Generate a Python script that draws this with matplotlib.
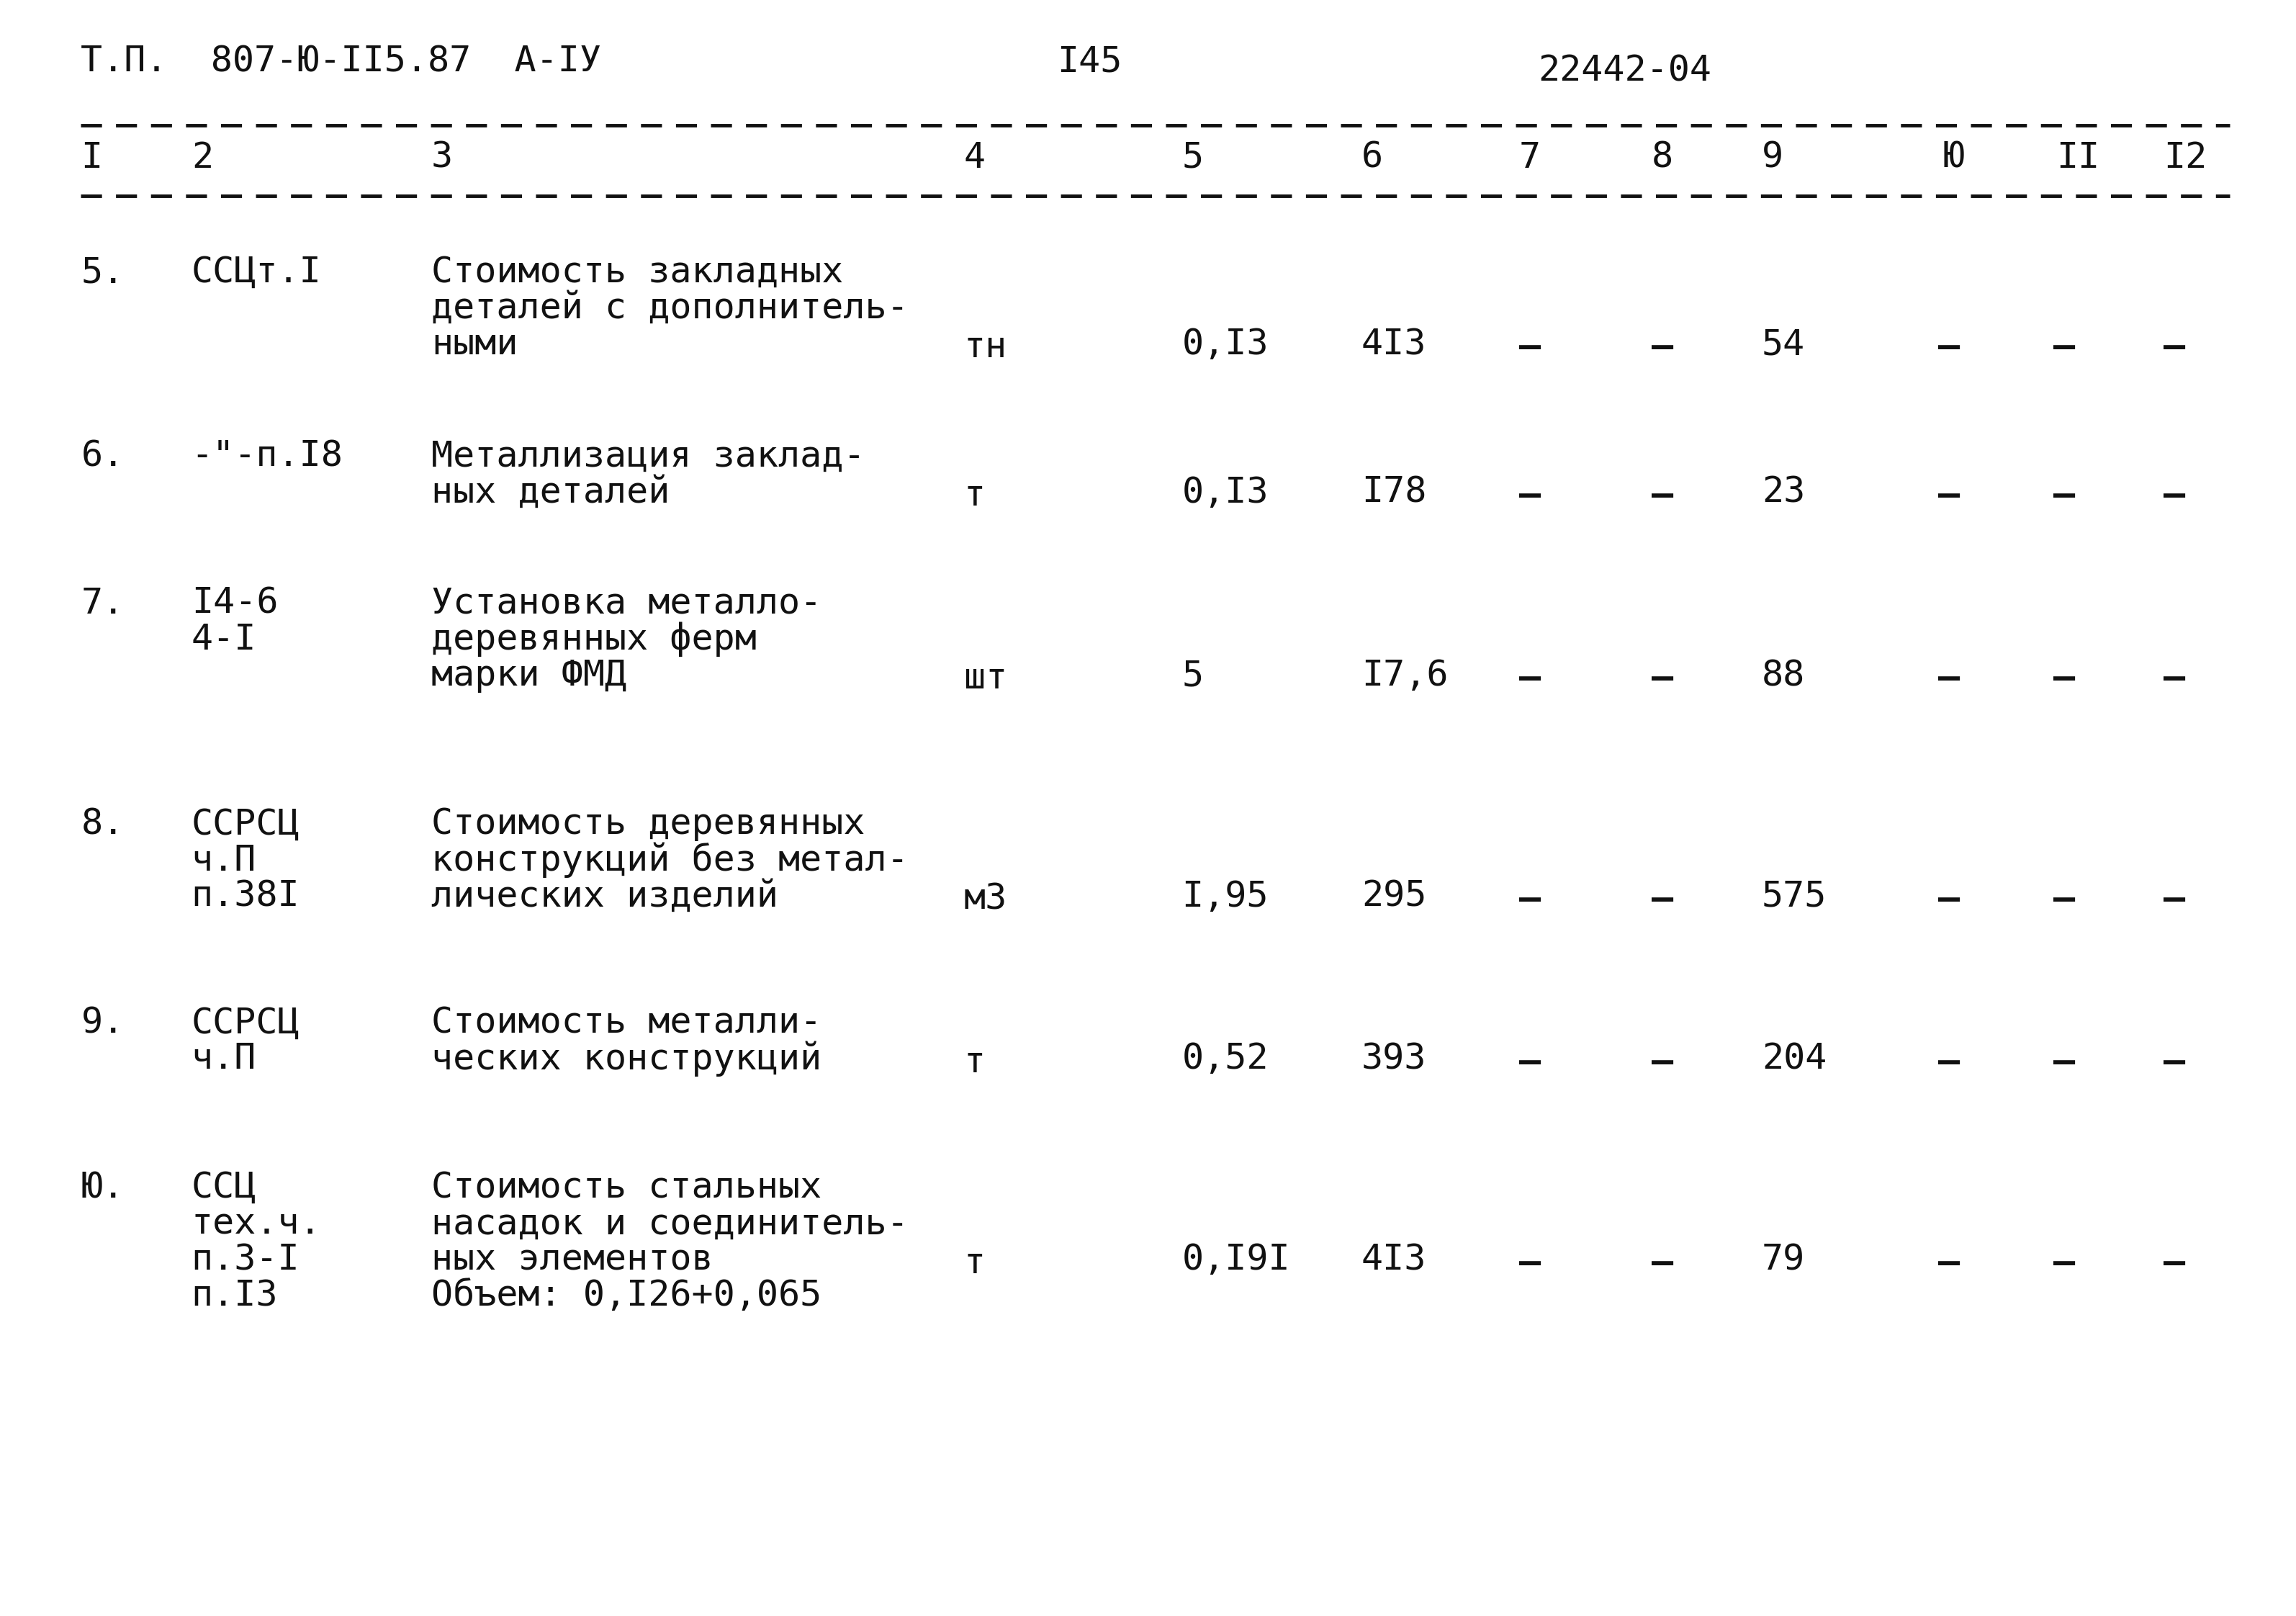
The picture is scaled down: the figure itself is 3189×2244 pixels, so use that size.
import matplotlib
matplotlib.use("Agg")
import matplotlib.pyplot as plt

header_left = "Т.П.  807-Ю-II5.87  А-IУ"
header_mid = "I45"
header_right = "22442-04"
col_headers = ["I", "2", "3", "4", "5", "6", "7", "8", "9", "Ю", "II", "I2"]
col_x = [55, 130, 293, 655, 803, 925, 1032, 1122, 1197, 1320, 1397, 1470]

nums = ["5.", "6.", "7.", "8.", "9.", "Ю."]
codes = [["ССЦт.I"], ['-"-п.I8'], ["I4-6", "4-I"], ["ССРСЦ", "ч.П", "п.38I"],
         ["ССРСЦ", "ч.П"], ["ССЦ", "тех.ч.", "п.3-I", "п.I3"]]
descs = [["Стоимость закладных", "деталей с дополнитель-", "ными"],
         ["Металлизация заклад-", "ных деталей"],
         ["Установка металло-", "деревянных ферм", "марки ФМД"],
         ["Стоимость деревянных", "конструкций без метал-", "лических изделий"],
         ["Стоимость металли-", "ческих конструкций"],
         ["Стоимость стальных", "насадок и соединитель-", "ных элементов", "Объем: 0,I26+0,065"]]
units = ["тн", "т", "шт", "м3", "т", "т"]
col5 = ["0,I3", "0,I3", "5", "I,95", "0,52", "0,I9I"]
col6 = ["4I3", "I78", "I7,6", "295", "393", "4I3"]
col9 = ["54", "23", "88", "575", "204", "79"]

row_top = [185, 310, 410, 560, 695, 807]
value_line = [2, 1, 2, 2, 1, 2]
line_h = 24.5

fig = plt.figure(figsize=(31.89, 22.44), dpi=100)
ax = fig.add_axes([0, 0, 1, 1])
ax.set_xlim(0, 1560)
ax.set_ylim(1098, 0)
ax.axis("off")
FS = 36
kw = dict(family="DejaVu Sans Mono", fontsize=FS, va="center", ha="left", color="#111111")

ax.text(55, 42, header_left, **kw)
ax.text(718, 42, header_mid, **kw)
ax.text(1045, 48, header_right, **kw)
for y in (85, 133):
    ax.plot([55, 1515], [y, y], color="#111111", lw=3.5, linestyle=(0, (6, 4)))
for x, h in zip(col_x, col_headers):
    ax.text(x, 107, h, **kw)

for i in range(len(nums)):
    y0 = row_top[i]
    ax.text(55, y0, nums[i], **kw)
    for j, c in enumerate(codes[i]):
        ax.text(130, y0 + j * line_h, c, **kw)
    for j, d in enumerate(descs[i]):
        ax.text(293, y0 + j * line_h, d, **kw)
    yv = y0 + value_line[i] * line_h
    ax.text(655, yv + 2, units[i], **kw)
    ax.text(803, yv, col5[i], **kw)
    ax.text(925, yv, col6[i], **kw)
    ax.text(1197, yv, col9[i], **kw)
    for x in (1032, 1122, 1317, 1395, 1470):
        ax.text(x, yv + 2, "–", fontweight="bold", **kw)

fig.savefig("out.png", dpi=100, facecolor="white")
